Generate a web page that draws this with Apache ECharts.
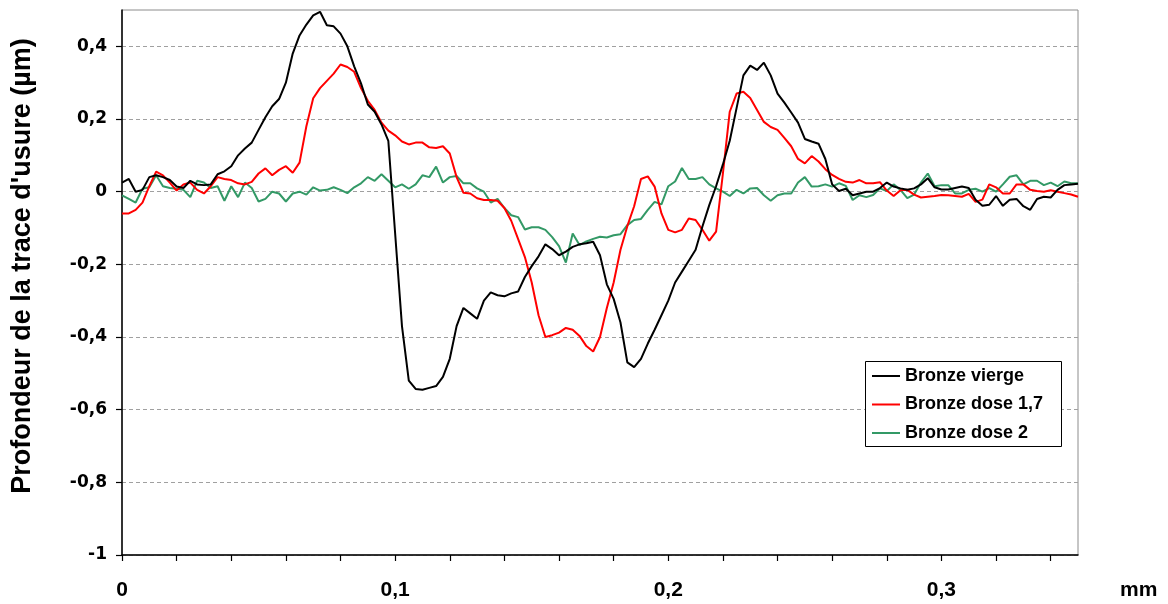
<!DOCTYPE html>
<html>
<head>
<meta charset="utf-8">
<script src="https://cdn.jsdelivr.net/npm/echarts@6/dist/echarts.min.js"></script>
<style>
html,body{margin:0;padding:0;background:#fff;}
#chart{width:1168px;height:604px;}
</style>
</head>
<body>
<div id="chart"></div>
<script>
// Position along the wear track (mm)
var xMm = [
 0, 0.0025, 0.005, 0.0075, 0.01, 0.0125, 0.015, 0.0175, 0.02, 0.0225,
 0.025, 0.0275, 0.03, 0.0325, 0.035, 0.0375, 0.04, 0.0425, 0.045, 0.0475,
 0.05, 0.0525, 0.055, 0.0575, 0.06, 0.0625, 0.065, 0.0675, 0.07, 0.0725,
 0.075, 0.0775, 0.08, 0.0825, 0.085, 0.0875, 0.09, 0.0925, 0.095, 0.0975,
 0.1, 0.1025, 0.105, 0.1075, 0.11, 0.1125, 0.115, 0.1175, 0.12, 0.1225,
 0.125, 0.1275, 0.13, 0.1325, 0.135, 0.1375, 0.14, 0.1425, 0.145, 0.1475,
 0.15, 0.1525, 0.155, 0.1575, 0.16, 0.1625, 0.165, 0.1675, 0.17, 0.1725,
 0.175, 0.1775, 0.18, 0.1825, 0.185, 0.1875, 0.19, 0.1925, 0.195, 0.1975,
 0.2, 0.2025, 0.205, 0.2075, 0.21, 0.2125, 0.215, 0.2175, 0.22, 0.2225,
 0.225, 0.2275, 0.23, 0.2325, 0.235, 0.2375, 0.24, 0.2425, 0.245, 0.2475,
 0.25, 0.2525, 0.255, 0.2575, 0.26, 0.2625, 0.265, 0.2675, 0.27, 0.2725,
 0.275, 0.2775, 0.28, 0.2825, 0.285, 0.2875, 0.29, 0.2925, 0.295, 0.2975,
 0.3, 0.3025, 0.305, 0.3075, 0.31, 0.3125, 0.315, 0.3175, 0.32, 0.3225,
 0.325, 0.3275, 0.33, 0.3325, 0.335, 0.3375, 0.34, 0.3425, 0.345, 0.3475,
 0.35
];

// Bronze vierge (µm)
var bronzeVierge = [
 0.025, 0.035, 0.000, 0.005, 0.040, 0.045, 0.040, 0.032, 0.014, 0.010,
 0.030, 0.020, 0.018, 0.020, 0.048, 0.056, 0.070, 0.100, 0.119, 0.135,
 0.170, 0.205, 0.235, 0.255, 0.300, 0.380, 0.430, 0.460, 0.485, 0.495,
 0.458, 0.455, 0.435, 0.400, 0.345, 0.298, 0.240, 0.220, 0.185, 0.140,
 -0.115, -0.370, -0.520, -0.543, -0.545, -0.540, -0.535, -0.510, -0.460, -0.370,
 -0.320, -0.335, -0.350, -0.300, -0.277, -0.285, -0.288, -0.280, -0.275, -0.235,
 -0.205, -0.178, -0.145, -0.158, -0.175, -0.165, -0.152, -0.145, -0.142, -0.138,
 -0.175, -0.255, -0.295, -0.360, -0.470, -0.483, -0.460, -0.418, -0.380, -0.340,
 -0.300, -0.250, -0.220, -0.190, -0.160, -0.096, -0.037, 0.015, 0.075, 0.140,
 0.230, 0.320, 0.347, 0.335, 0.355, 0.320, 0.270, 0.245, 0.218, 0.190,
 0.145, 0.138, 0.132, 0.090, 0.020, 0.002, 0.008, -0.010, -0.005, 0.000,
 0.000, 0.010, 0.025, 0.014, 0.009, 0.005, 0.009, 0.020, 0.037, 0.012,
 0.006, 0.006, 0.010, 0.014, 0.010, -0.022, -0.039, -0.036, -0.012, -0.039,
 -0.022, -0.020, -0.040, -0.050, -0.020, -0.014, -0.016, 0.005, 0.018, 0.020,
 0.022
];

// Bronze dose 1,7 (µm)
var bronzeDose17 = [
 -0.060, -0.060, -0.050, -0.030, 0.015, 0.055, 0.045, 0.025, 0.003, 0.020,
 0.025, 0.005, -0.005, 0.015, 0.040, 0.035, 0.032, 0.023, 0.020, 0.027,
 0.050, 0.064, 0.045, 0.060, 0.070, 0.052, 0.080, 0.180, 0.257, 0.285,
 0.305, 0.325, 0.350, 0.343, 0.330, 0.285, 0.250, 0.225, 0.190, 0.168,
 0.155, 0.138, 0.130, 0.135, 0.135, 0.122, 0.120, 0.125, 0.105, 0.040,
 -0.003, -0.005, -0.018, -0.023, -0.023, -0.025, -0.045, -0.080, -0.130, -0.180,
 -0.250, -0.340, -0.400, -0.395, -0.388, -0.375, -0.380, -0.397, -0.425, -0.440,
 -0.400, -0.320, -0.250, -0.160, -0.095, -0.040, 0.035, 0.042, 0.014, -0.060,
 -0.105, -0.112, -0.105, -0.074, -0.078, -0.105, -0.135, -0.110, 0.050, 0.220,
 0.270, 0.275, 0.258, 0.225, 0.192, 0.178, 0.170, 0.148, 0.125, 0.090,
 0.078, 0.098, 0.083, 0.062, 0.046, 0.035, 0.027, 0.025, 0.032, 0.023,
 0.023, 0.026, 0.003, -0.012, 0.004, 0.005, -0.008, -0.016, -0.014, -0.012,
 -0.009, -0.010, -0.012, -0.014, -0.006, -0.028, -0.022, 0.020, 0.012, -0.005,
 -0.005, 0.020, 0.020, 0.005, 0.002, 0.000, 0.004, 0.000, -0.004, -0.008,
 -0.014
];

// Bronze dose 2 (µm)
var bronzeDose2 = [
 -0.010, -0.020, -0.030, 0.008, 0.012, 0.045, 0.015, 0.010, 0.008, 0.005,
 -0.015, 0.030, 0.025, 0.010, 0.015, -0.025, 0.015, -0.015, 0.025, 0.010,
 -0.027, -0.020, 0.000, -0.005, -0.027, -0.005, 0.000, -0.008, 0.012, 0.003,
 0.005, 0.012, 0.005, -0.004, 0.012, 0.023, 0.040, 0.030, 0.048, 0.030,
 0.012, 0.020, 0.008, 0.020, 0.045, 0.040, 0.069, 0.025, 0.040, 0.043,
 0.023, 0.023, 0.009, 0.000, -0.030, -0.020, -0.045, -0.065, -0.070, -0.104,
 -0.098, -0.098, -0.105, -0.125, -0.150, -0.195, -0.115, -0.147, -0.137, -0.130,
 -0.124, -0.126, -0.120, -0.117, -0.092, -0.078, -0.075, -0.050, -0.028, -0.035,
 0.015, 0.028, 0.065, 0.035, 0.035, 0.040, 0.020, 0.009, 0.000, -0.012,
 0.005, -0.005, 0.009, 0.010, -0.010, -0.025, -0.010, -0.005, -0.005, 0.025,
 0.040, 0.014, 0.015, 0.020, 0.014, 0.023, 0.016, -0.023, -0.010, -0.015,
 -0.009, 0.009, 0.002, 0.020, 0.005, -0.018, -0.008, 0.025, 0.050, 0.015,
 0.018, 0.018, -0.005, -0.005, 0.005, 0.008, 0.000, 0.010, 0.000, 0.020,
 0.041, 0.045, 0.020, 0.030, 0.030, 0.018, 0.025, 0.015, 0.028, 0.023,
 0.023
];

var seriesNames = ['Bronze vierge', 'Bronze dose 1,7', 'Bronze dose 2'];
var seriesColors = ['#000000', '#ff0000', '#339966'];

// Axis ticks and labels
var xTickValues = [0, 0.02, 0.04, 0.06, 0.08, 0.1, 0.12, 0.14, 0.16, 0.18, 0.2, 0.22, 0.24, 0.26, 0.28, 0.3, 0.32, 0.34];
var xLabelValues = [0, 0.1, 0.2, 0.3];
var yTickValues = [-1, -0.8, -0.6, -0.4, -0.2, 0, 0.2, 0.4];
var xUnitLabel = 'mm';
var yTitle = "Profondeur de la trace d'usure (µm)";

function pairs(xs, ys) {
  var out = [];
  for (var i = 0; i < xs.length; i++) out.push([xs[i], ys[i]]);
  return out;
}
function fr(v) { return String(+v.toFixed(4)).replace('.', ','); }

var allY = [bronzeVierge, bronzeDose17, bronzeDose2];

var chart = echarts.init(document.getElementById('chart'), null, {renderer: 'canvas'});
chart.setOption({
  animation: false,
  backgroundColor: '#ffffff',
  grid: {
    left: 122, right: 90, top: 10, bottom: 49,
    show: true, borderColor: '#8c8c8c', borderWidth: 1, backgroundColor: 'transparent'
  },
  xAxis: {
    type: 'value', min: 0, max: 0.35,
    axisLine: {show: true, onZero: false, lineStyle: {color: '#000', width: 1.5}},
    axisTick: {show: true, inside: false, length: 6, customValues: xTickValues, lineStyle: {color: '#000', width: 1.2}},
    axisLabel: {
      customValues: xLabelValues, margin: 25,
      fontFamily: 'Liberation Sans', fontWeight: 'bold', fontSize: 21, color: '#000',
      formatter: function (v) { return fr(v); }
    },
    splitLine: {show: false}
  },
  yAxis: {
    type: 'value', min: -1, max: 0.5, interval: 0.2,
    axisLine: {show: true, onZero: false, lineStyle: {color: '#000', width: 1.5}},
    axisTick: {show: true, inside: false, length: 6, customValues: yTickValues, lineStyle: {color: '#000', width: 1.2}},
    axisLabel: {
      customValues: yTickValues, margin: 15,
      fontFamily: 'DejaVu Sans', fontWeight: 'bold', fontSize: 17, color: '#000',
      formatter: function (v) { return fr(v); }
    },
    splitLine: {show: true, lineStyle: {color: '#a0a0a0', width: 1, type: [4, 3]}}
  },
  legend: {
    data: seriesNames,
    orient: 'vertical', left: 872, top: 367, padding: 0,
    icon: 'rect', itemWidth: 28, itemHeight: 2, itemGap: 10.5,
    textStyle: {fontFamily: 'Liberation Sans', fontWeight: 'bold', fontSize: 18, color: '#000', lineHeight: 18, padding: [0, 0, 0, 0]},
    z: 10
  },
  graphic: [
    {type: 'rect', z: 5, shape: {x: 865.5, y: 361.5, width: 196, height: 85}, style: {fill: '#fff', stroke: '#000', lineWidth: 1}},
    {type: 'text', z: 5, left: 1120, top: 580, style: {text: xUnitLabel, fontFamily: 'Liberation Sans', fontWeight: 'bold', fontSize: 21, fill: '#000'}},
    {type: 'text', z: 5, x: 23, y: 266, rotation: Math.PI / 2,
     style: {text: yTitle, fontFamily: 'Liberation Sans', fontWeight: 'bold', fontSize: 27, fill: '#000', align: 'center', verticalAlign: 'middle'}}
  ],
  series: seriesNames.map(function (n, k) {
    return {
      name: n, type: 'line', data: pairs(xMm, allY[k]),
      showSymbol: false, symbol: 'none', smooth: false,
      color: seriesColors[k],
      lineStyle: {color: seriesColors[k], width: 2},
      z: 3 - k
    };
  })
});
</script>
</body>
</html>
